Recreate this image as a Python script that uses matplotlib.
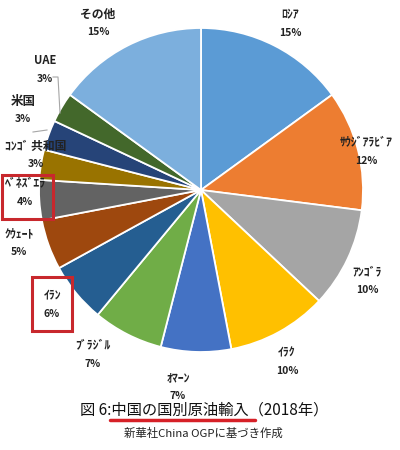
import matplotlib
matplotlib.use("Agg")
import matplotlib.pyplot as plt
from matplotlib.patches import Rectangle
from matplotlib.lines import Line2D

plt.rcParams['font.family'] = ['Noto Sans CJK JP', 'DejaVu Sans']

# ---- data ----
countries = ['ﾛｼｱ', 'ｻｳｼﾞｱﾗﾋﾞｱ', 'ｱﾝｺﾞﾗ', 'ｲﾗｸ', 'ｵﾏｰﾝ', 'ﾌﾞﾗｼﾞﾙ', 'ｲﾗﾝ',
             'ｸｳｪｰﾄ', 'ﾍﾞﾈｽﾞｴﾗ', 'ｺﾝｺﾞ 共和国', '米国', 'UAE', 'その他']
shares = [15, 12, 10, 10, 7, 7, 6, 5, 4, 3, 3, 3, 15]
title = '図 6:中国の国別原油輸入（2018年）'
source = '新華社China OGPに基づき作成'

# ---- style / layout ----
colors = ['#5B9BD5', '#ED7D31', '#A5A5A5', '#FFC000', '#4472C4', '#70AD47',
          '#255E91', '#9E480E', '#636363', '#997300', '#264478', '#43682B',
          '#7CAFDD']
# label centre offsets from pie centre, in pixels (x right, y up)
label_offsets = [(89, 166), (165, 38), (166, -91), (86, -172), (-23, -197),
                 (-108, -165), (-149, -115), (-182, -53), (-176, -3),
                 (-165, 35), (-178, 80), (-156, 120), (-103, 167)]
name_sizes = [8.5] * 9 + [8.5, 9, 8, 8.5]
W, H = 400, 450
cx, cy, R = 201, 190, 162

fig = plt.figure(figsize=(W / 100, H / 100), dpi=100)
ax = fig.add_axes([(cx - R) / W, (H - cy - R) / H, 2 * R / W, 2 * R / H])
ax.pie(shares, colors=colors, startangle=90, counterclock=False, radius=1,
       wedgeprops=dict(edgecolor='white', linewidth=1.3))
ax.set_xlim(-1, 1)
ax.set_ylim(-1, 1)
ax.set_aspect('equal')
ax.axis('off')

for name, val, (ox, oy), fs in zip(countries, shares, label_offsets, name_sizes):
    x, y = ox / R, oy / R
    ax.text(x, y + 9 / R, name, ha='center', va='center', fontsize=fs,
            fontweight='bold', color='#222222')
    ax.text(x, y - 9 / R, f'{val}%', ha='center', va='center', fontsize=7.5,
            fontweight='bold', color='#222222')


def fx(px):
    return px / W


def fy(py):
    return 1 - py / H


# leader lines (UAE, 米国)
grey = '#A6A6A6'
fig.add_artist(Line2D([fx(53), fx(58), fx(60)], [fy(77), fy(77), fy(113)],
                      color=grey, lw=0.8, transform=fig.transFigure))
fig.add_artist(Line2D([fx(33), fx(47)], [fy(132), fy(130)],
                      color=grey, lw=0.8, transform=fig.transFigure))

# red highlight boxes
red = '#C8282D'
for (x0, y0, x1, y1) in [(2, 175, 53, 219), (32, 277, 72, 331)]:
    fig.add_artist(Rectangle((fx(x0), fy(y1)), fx(x1) - fx(x0), fy(y0) - fy(y1),
                             fill=False, edgecolor=red, lw=2.2,
                             transform=fig.transFigure))

# title, underline, source
fig.text(0.51, fy(410), title, ha='center', va='center', fontsize=11,
         color='#111111')
fig.add_artist(Line2D([fx(110), fx(255)], [fy(420), fy(420)], color='#D62027',
                      lw=2.5, solid_capstyle='round', transform=fig.transFigure))
fig.text(0.508, fy(433), source, ha='center', va='center', fontsize=8.2,
         color='#222222')

fig.savefig('out.png', dpi=100, facecolor='white')
